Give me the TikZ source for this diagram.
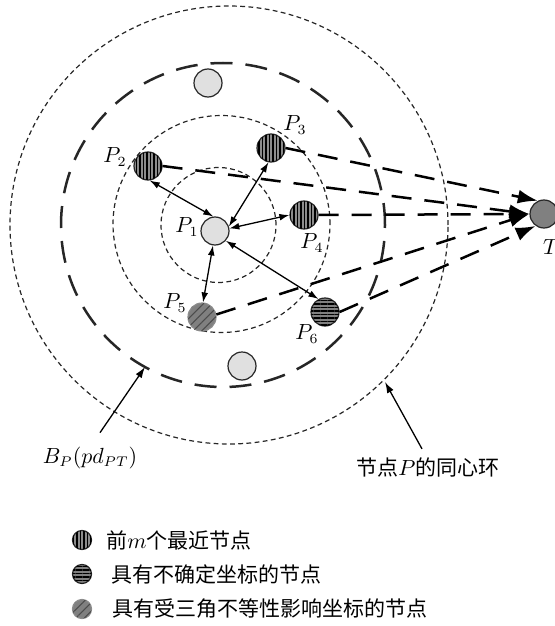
\documentclass[tikz,border=0pt]{standalone}
\usepackage{fontspec}
\newfontfamily\cjk{Noto Sans CJK SC}
\usetikzlibrary{arrows.meta,patterns.meta}
\begin{document}
\begin{tikzpicture}[x=0.5pt,y=-0.5pt,
  ring/.style={draw=black!85, line width=0.6pt, dash pattern=on 2.4pt off 1.7pt},
  ballring/.style={draw=black!85, line width=1.25pt, dash pattern=on 11pt off 6.5pt},
  dot/.style={circle, draw=black!85, line width=0.6pt, minimum size=14pt, inner sep=0pt},
  smalldot/.style={circle, draw=black!85, line width=0.6pt, minimum size=9.5pt, inner sep=0pt},
  plain/.style={fill=black!12},
  nearest/.style={fill=black!45, postaction={pattern={Lines[angle=90,distance=1.75pt,line width=0.8pt]}}},
  unsure/.style={fill=black!50, postaction={pattern={Lines[angle=0,distance=1.75pt,line width=0.95pt]}}},
  ineq/.style={draw=black!45, fill=black!50, postaction={pattern={Lines[angle=45,distance=3pt,line width=0.55pt]},pattern color=black!70}},
  target/.style={fill=black!50},
  link/.style={line width=0.65pt, {Latex[length=5pt,width=3.4pt]}-{Latex[length=5pt,width=3.4pt]}},
  totarget/.style={line width=1.25pt, dash pattern=on 10pt off 6.5pt, -{Latex[length=10pt,width=7pt]}},
  pointer/.style={line width=0.65pt, -{Latex[length=5.5pt,width=3.6pt]}},
  lab/.style={inner sep=0pt, font=\fontsize{10.5}{12}\selectfont},
]
\useasboundingbox (0,0) rectangle (555,626);

% concentric rings of P
\draw[ring] (229,225) circle[radius=109.5pt];
\draw[ring] (221.5,224) circle[radius=54.25pt];
\draw[ring] (218.5,225) circle[radius=28.75pt];
% ball B_P(pd_PT)
\draw[ballring] (223,225) circle[radius=81pt];

% nodes
\node[dot,plain] (P1) at (215,231) {};
\node[dot,nearest] (P2) at (148,166) {};
\node[dot,nearest] (P3) at (271,148) {};
\node[dot,nearest] (P4) at (304,215) {};
\node[dot,ineq] (P5) at (202,317) {};
\node[dot,unsure] (P6) at (325,312) {};
\node[dot,plain] (Q1) at (208,83) {};
\node[dot,plain] (Q2) at (242,366) {};
\node[dot,target] (T) at (544,214) {};

% labels
\node[lab] (L1) at (187,227) {$P_1$};
\node[lab] (L2) at (115,157) {$P_2$};
\node[lab] (L3) at (295,125) {$P_3$};
\node[lab] (L4) at (312,243) {$P_4$};
\node[lab] (L5) at (175,303) {$P_5$};
\node[lab] (L6) at (307,334) {$P_6$};
\node[lab] (LT) at (551,247) {$T$};

% links between P1 and its neighbours
\draw[link] (P2.-83) -- (P1.97);
\draw[link] (P3.-100) -- (P1.18);
\draw[link] (P4.180) -- (P1.10);
\draw[link] (P1.-98) -- (P5.86);
\draw[link] (P1.-42) -- (P6.117);

% distance estimates towards T
\draw[totarget] (P3.east) -- (T.115);
\draw[totarget] (P2.east) -- (T.180);
\draw[totarget] (P4.east) -- (T.180);
\draw[totarget] (P5.10) -- (T.180);
\draw[totarget] (P6.east) -- (T.235);

% annotations
\coordinate (bp) at (145,367);
\coordinate (rp) at (385,382);
\node[lab] (BL) at (90,458) {$B_P(pd_{PT})$};
\node[lab] (RL) at (428,467) {\cjk 节点$P$的同心环};
\draw[pointer] ([xshift=5pt,yshift=7pt]BL.north) -- (bp);
\draw[pointer] ([xshift=-3pt,yshift=4pt]RL.north) -- (rp);

% legend
\node[smalldot,nearest] (K1) at (82,540) {};
\node[smalldot,unsure] (K2) at (82,574) {};
\node[smalldot,ineq] (K3) at (82,609) {};
\node[lab,anchor=west] (T1) at (106,540) {\cjk 前$m$个最近节点};
\node[lab,anchor=west] (T2) at (111,574) {\cjk 具有不确定坐标的节点};
\node[lab,anchor=west] (T3) at (112,609) {\cjk 具有受三角不等性影响坐标的节点};
\end{tikzpicture}
\end{document}
